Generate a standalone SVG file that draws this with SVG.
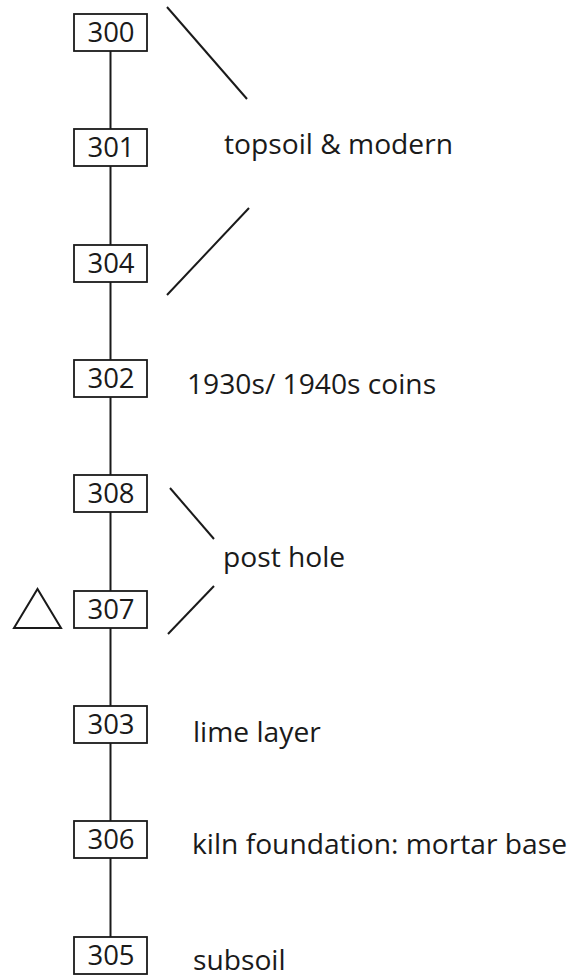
<svg xmlns="http://www.w3.org/2000/svg" width="571" height="979" viewBox="0 0 571 979">
<style>
.box{fill:#fff;stroke:#1a1a1a;stroke-width:1.8}
.num{font-family:"Open Sans","Liberation Sans",sans-serif;font-size:27.5px;fill:#1a1a1a;text-anchor:middle}
.lbl{font-family:"Open Sans","Liberation Sans",sans-serif;font-size:28.2px;fill:#1a1a1a}
.ln{stroke:#1a1a1a;stroke-width:2;fill:none}
</style>
<rect width="571" height="979" fill="#fff"/>
<g id="connectors">
<line class="ln" x1="110.5" y1="51" x2="110.5" y2="937"/>
</g>
<g id="brackets">
<line class="ln" x1="167" y1="7" x2="247" y2="99"/>
<line class="ln" x1="249" y1="208" x2="167" y2="295"/>
<line class="ln" x1="170" y1="488" x2="214" y2="539"/>
<line class="ln" x1="214" y1="586" x2="168" y2="634"/>
</g>
<g id="n300"><rect class="box" x="74" y="14" width="73" height="37"/><text class="num" x="111" y="42">300</text></g>
<g id="n301"><rect class="box" x="74" y="129" width="73" height="37"/><text class="num" x="111" y="157">301</text></g>
<g id="n304"><rect class="box" x="74" y="245" width="73" height="37"/><text class="num" x="111" y="273">304</text></g>
<g id="n302"><rect class="box" x="74" y="360" width="73" height="37"/><text class="num" x="111" y="388">302</text></g>
<g id="n308"><rect class="box" x="74" y="475" width="73" height="37"/><text class="num" x="111" y="503">308</text></g>
<g id="n307"><rect class="box" x="74" y="591" width="73" height="37"/><text class="num" x="111" y="619">307</text></g>
<g id="n303"><rect class="box" x="74" y="706" width="73" height="37"/><text class="num" x="111" y="734">303</text></g>
<g id="n306"><rect class="box" x="74" y="821" width="73" height="37"/><text class="num" x="111" y="849">306</text></g>
<g id="n305"><rect class="box" x="74" y="937" width="73" height="37"/><text class="num" x="111" y="965">305</text></g>
<g id="triangle"><polygon class="ln" points="14,628 61,628 37.5,589"/></g>
<g id="labels">
<text class="lbl" x="224" y="154">topsoil &amp; modern</text>
<text class="lbl" x="187" y="394">1930s/ 1940s coins</text>
<text class="lbl" x="223" y="567">post hole</text>
<text class="lbl" x="193" y="742">lime layer</text>
<text class="lbl" x="192" y="854">kiln foundation: mortar base</text>
<text class="lbl" x="193" y="970">subsoil</text>
</g>
</svg>
